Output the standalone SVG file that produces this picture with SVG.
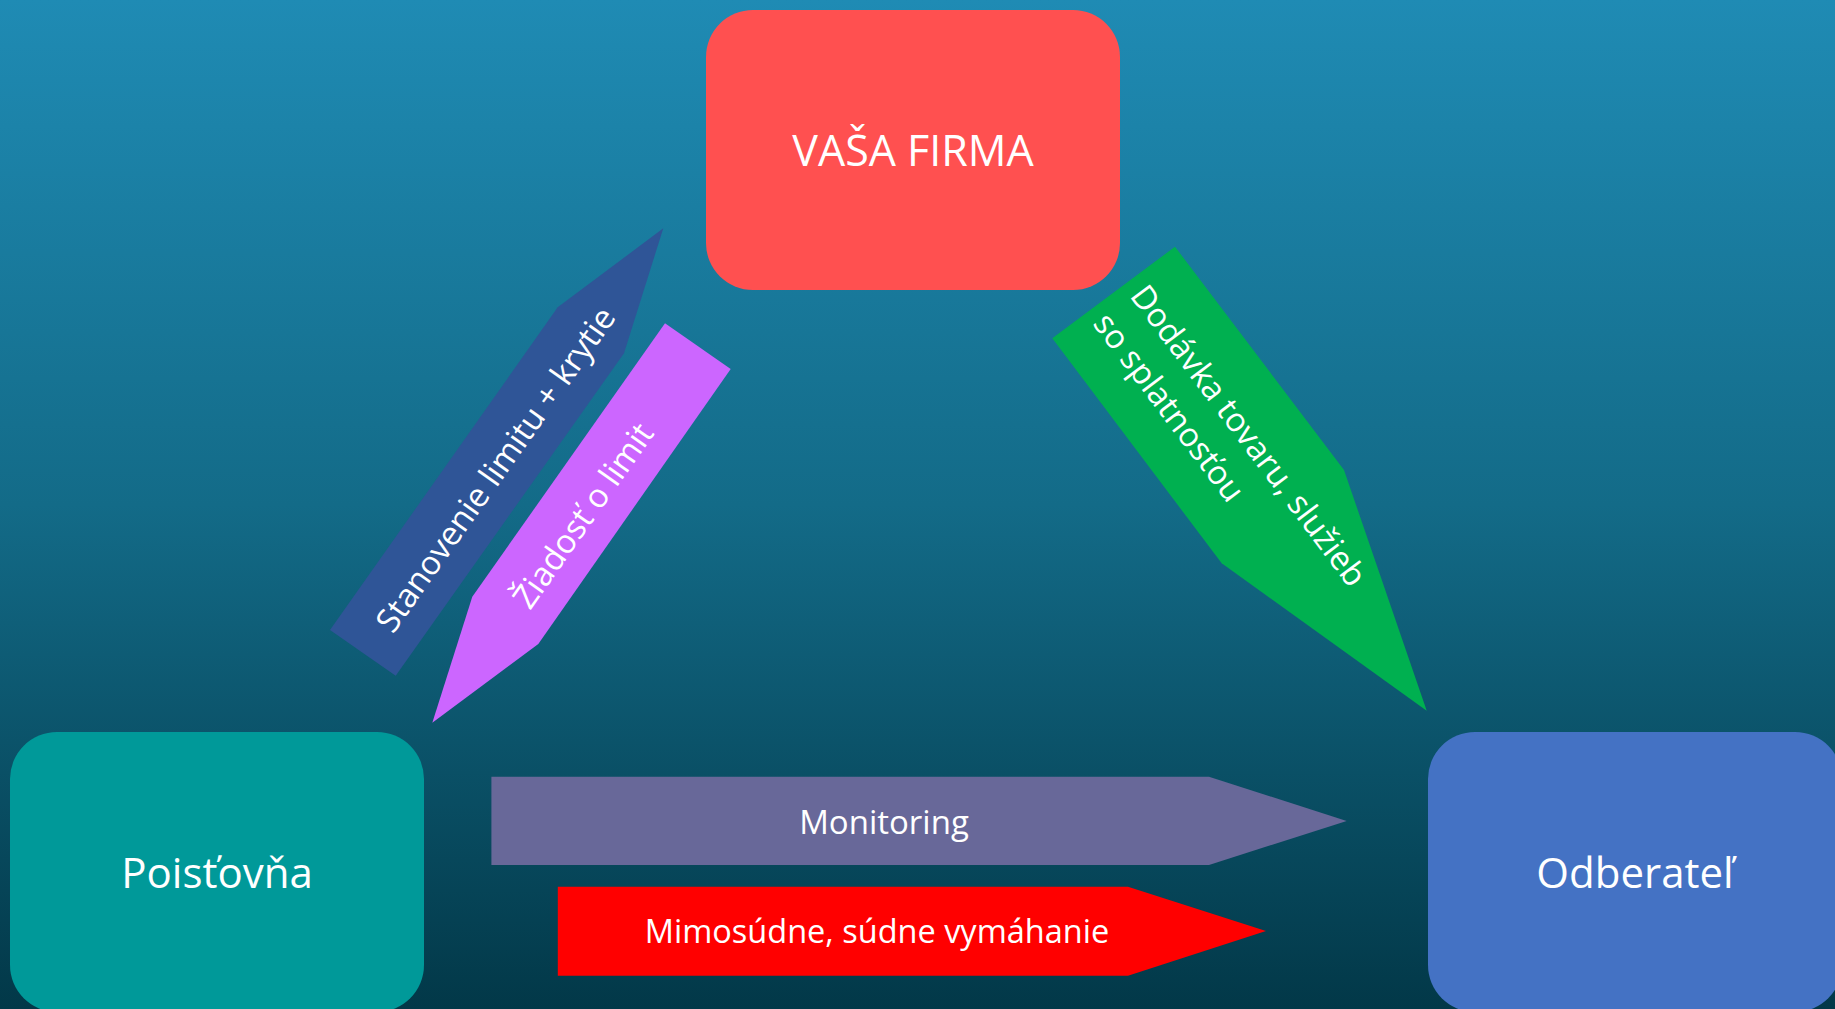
<svg xmlns="http://www.w3.org/2000/svg" width="1835" height="1009" viewBox="0 0 1835 1009">
<defs>
<linearGradient id="bg" x1="0" y1="0" x2="0" y2="1">
<stop offset="0" stop-color="#1F8BB4"/>
<stop offset="0.5" stop-color="#136B88"/>
<stop offset="1" stop-color="#023848"/>
</linearGradient>
<style>
.t{font-family:"Open Sans","Noto Sans","DejaVu Sans",sans-serif;fill:#FFFFFF;}
.big{font-size:42px;text-anchor:middle;}
.sm{font-size:33px;}
.mid{text-anchor:middle;}
</style>
</defs>
<rect x="0" y="0" width="1835" height="1009" fill="url(#bg)"/>
<g id="connectors">
<g id="c-stanovenie">
<polygon points="330,630 557.7,307.3 663.3,228.3 624,353.3 395.7,675.7" fill="#2F5597"/>
<text class="t sm mid" transform="translate(505,476) rotate(-54.8)">Stanovenie limitu + krytie</text>
</g>
<g id="c-ziadost">
<polygon points="665,323.3 730.7,369 538.3,644 432.3,722.7 472.3,596.7" fill="#CC66FF"/>
<text class="t sm mid" transform="translate(592.5,522.2) rotate(-54.9)">Žiadosť o limit</text>
</g>
<g id="c-dodavka">
<polygon points="1175,246.7 1344,470 1426.7,710.7 1221.7,563.3 1052.3,338.3" fill="#00B050"/>
<text class="t sm" transform="translate(1129,296) rotate(53)"><tspan x="0" y="0">Dodávka tovaru, služieb</tspan><tspan x="0" y="46.3">so splatnosťou</tspan></text>
</g>
<g id="c-monitoring">
<polygon points="491.4,776.7 1209,776.7 1346.7,821 1209,865 491.4,865" fill="#686899"/>
<text class="t sm mid" x="884" y="834">Monitoring</text>
</g>
<g id="c-vymahanie">
<polygon points="557.8,886.7 1128,886.7 1266,931 1128,975.7 557.8,975.7" fill="#FF0000"/>
<text class="t mid" style="font-size:32.5px" x="877" y="943">Mimosúdne, súdne vymáhanie</text>
</g>
</g>
<g id="node-firma">
<rect x="706" y="10" width="414" height="280" rx="47" ry="47" fill="#FF5050"/>
<text class="t big" style="font-size:43px" x="913" y="166">VAŠA FIRMA</text>
</g>
<g id="node-poistovna">
<rect x="10" y="732" width="414" height="280" rx="47" ry="47" fill="#009999"/>
<text class="t big" x="217" y="888">Poisťovňa</text>
</g>
<g id="node-odberatel">
<rect x="1428" y="732" width="414" height="280" rx="47" ry="47" fill="#4472C4"/>
<text class="t big" x="1635" y="888">Odberateľ</text>
</g>
</svg>
